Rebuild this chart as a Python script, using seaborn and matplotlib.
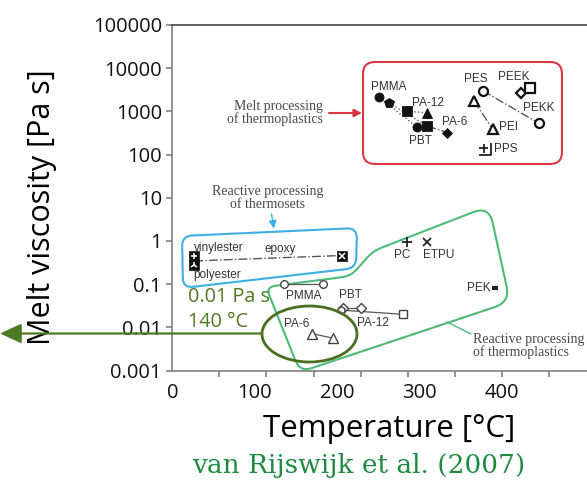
import numpy as np
import matplotlib
matplotlib.use("Agg")
import matplotlib.pyplot as plt
import seaborn as sns
from matplotlib.path import Path
from matplotlib.patches import PathPatch, Ellipse, FancyArrowPatch
from matplotlib.transforms import Affine2D

# ---------------- data ----------------
# Melt processing of thermoplastics (processing temperature [°C], melt viscosity [Pa s])
melt_t = [251, 263, 284.5, 308.7, 297.3, 309.5, 333.7, 376.7, 366.0, 388.8, 445.0, 423.2, 434.0, 379.5]
melt_eta = [2100, 1580, 1010, 925, 424, 454, 324, 2990, 1750, 381, 525, 2610, 3390, 138]
melt_marker = ["o", "p", "s", "^", "o", "s", "D", "o", "^", "^", "o", "D", "s", "pps"]
melt_filled = [1, 1, 1, 1, 1, 1, 1, 0, 0, 0, 0, 0, 0, 0]
melt_links = [(0, 4, ":"), (1, 5, ":"), (2, 3, ":"), (5, 6, "-."), (7, 10, "-."), (8, 9, "-.")]

# Reactive processing of thermoplastics: ranges with two end points
rtp_names = ["PMMA", "PBT", "PA-12", "PA-6"]
rtp_t_lo = [136, 207, 205, 170]
rtp_t_hi = [183, 229, 280, 195]
rtp_eta_lo = [0.10, 0.028, 0.025, 0.0071]
rtp_eta_hi = [0.10, 0.028, 0.020, 0.0056]
rtp_mk_lo = ["o", "D", "h", "^"]
rtp_mk_hi = ["o", "D", "s", "^"]

# Reactive processing of thermoplastics: single points
rtp1_names = ["PC", "ETPU", "PEK"]
rtp1_t = [284.5, 308.7, 391.6]
rtp1_eta = [0.94, 0.94, 0.080]
rtp1_mk = ["+", "x", "_"]

# Reactive processing of thermosets
ts_names = ["vinylester", "polyester", "epoxy"]
ts_t = [26.7, 26.7, 205.6]
ts_eta = [0.44, 0.27, 0.46]
ts_inner = ["+", "2", "x"]

ytick_vals = [1e-3, 1e-2, 1e-1, 1, 10, 100, 1000, 10000, 100000]
ytick_labels = ["0.001", "0.01", "0.1", "1", "10", "100", "1000", "10000", "100000"]
xtick_vals = [0, 100, 200, 300, 400]
xtick_labels = ["0", "100", "200", "300", "400"]

# ---------------- figure ----------------
sns.set_theme(style="ticks")
plt.rcParams["font.family"] = ["Open Sans", "DejaVu Sans"]

W, H, DPI = 587, 490, 100
fig = plt.figure(figsize=(W / DPI, H / DPI), dpi=DPI)
AX_L, AX_R, AX_T, AX_B = 172.3, 587.0, 25.0, 370.5
ax = fig.add_axes([AX_L / W, (H - AX_B) / H, (AX_R - AX_L) / W, (AX_B - AX_T) / H])

# pixel coordinates measured from the top-left corner of the figure
pix = Affine2D().scale(1, -1).translate(0, H).scale(1 / DPI) + fig.dpi_scale_trans

ax.set_yscale("log")
ax.set_ylim(1e-3, 1e5)
ax.set_xlim(0, 503)
ax.set_yticks(ytick_vals)
ax.set_yticklabels(ytick_labels)
ax.yaxis.set_minor_locator(matplotlib.ticker.NullLocator())
ax.set_xticks(xtick_vals)
ax.set_xticklabels(xtick_labels)
ax.set_xticks(np.arange(0, 503, 57.1), minor=True)
ax.tick_params(axis="x", which="major", length=0, pad=9, labelsize=14.5, colors="#111")
ax.tick_params(axis="x", which="minor", length=4, width=1.1, color="#777", direction="out")
ax.tick_params(axis="y", which="major", length=4, width=1.1, color="#777", pad=3.5,
               labelsize=14.5, labelcolor="#111")
for s in ["left", "bottom"]:
    ax.spines[s].set_color("#808080")
    ax.spines[s].set_linewidth(1.2)
ax.spines["top"].set_color("#333")
ax.spines["top"].set_linewidth(1.1)
ax.spines["right"].set_visible(False)
ax.set_facecolor("white")

ax.set_ylabel("Melt viscosity [Pa s]", fontsize=22, color="black")
ax.yaxis.label.set_va("baseline")
ax.yaxis.set_label_coords((50 - AX_L) / (AX_R - AX_L), (AX_B - 206.7) / (AX_B - AX_T))
ax.set_xlabel("Temperature [°C]", fontsize=22.5, color="black")
ax.xaxis.label.set_va("baseline")
ax.xaxis.set_label_coords((389.5 - AX_L) / (AX_R - AX_L), (AX_B - 437) / (AX_B - AX_T))

LAB = dict(family="Liberation Sans", fontsize=8.5, color="#333", ha="center", va="center",
           transform=pix)
CAP = dict(family="Liberation Serif", fontsize=10, color="#484848", linespacing=1.0,
           transform=pix)


def draw(xs, ys, marker=None, ms=6, mfc="k", mec="k", mew=1.0, ls="none", lw=0.9,
         color="#444", z=3, **extra):
    sns.lineplot(x=list(xs), y=list(ys), ax=ax, estimator=None, sort=False, marker=marker,
                 markersize=ms, markerfacecolor=mfc, markeredgecolor=mec,
                 markeredgewidth=mew, linestyle=ls, linewidth=lw, color=color, zorder=z,
                 **extra)


def rounded_path(verts, radii):
    V = np.array(verts, float)
    n = len(V)
    pts, codes = [], []
    for i in range(n):
        p0, p1, p2 = V[i - 1], V[i], V[(i + 1) % n]
        d1 = (p0 - p1) / np.linalg.norm(p0 - p1)
        d2 = (p2 - p1) / np.linalg.norm(p2 - p1)
        a, b = p1 + d1 * radii[i], p1 + d2 * radii[i]
        codes.append(Path.MOVETO if i == 0 else Path.LINETO)
        pts.append(a)
        codes += [Path.CURVE3, Path.CURVE3]
        pts += [p1, b]
    codes.append(Path.CLOSEPOLY)
    pts.append(pts[0])
    return Path(pts, codes)


def outline(verts, radii, color, lw=1.5):
    ax.add_patch(PathPatch(rounded_path(verts, radii), fill=False, edgecolor=color,
                           linewidth=lw, transform=pix, clip_on=False, zorder=2))


def arrow(p_from, p_to, color, lw=1.2, scale=5, style="-|>,head_length=0.9,head_width=0.45",
          on_fig=False, z=2):
    a = FancyArrowPatch(p_from, p_to, arrowstyle=style, mutation_scale=scale, color=color,
                        linewidth=lw, shrinkA=0, shrinkB=0, transform=pix, clip_on=False,
                        zorder=z)
    if on_fig:
        fig.add_artist(a)
    else:
        ax.add_patch(a)


# ---------------- region outlines ----------------
RED, BLUE, GREEN = "#d8383f", "#3eaee6", "#4cbc78"
outline([(363, 62), (562, 62), (562, 164), (363, 164)], [12, 12, 12, 12], RED)
outline([(182, 236), (357, 228), (356, 268), (183, 288)], [10, 10, 10, 10], BLUE)
outline([(266, 287), (351, 276), (373, 251), (489, 206), (510, 302), (300, 372)],
        [9, 9, 9, 17, 16, 12], GREEN)

arrow((329, 113), (362, 113), RED, lw=1.5)
arrow((271.5, 214), (274.0, 228.5), BLUE, lw=1.0)
ax.add_line(matplotlib.lines.Line2D([447, 471], [322, 334], color=GREEN, lw=1.0,
                                    transform=pix, clip_on=False))

ax.text(323, 113, "Melt processing\nof thermoplastics", ha="right", va="center",
        multialignment="right", **CAP)
ax.text(268, 197.5, "Reactive processing\nof thermosets", ha="center", va="center",
        multialignment="center", **CAP)
ax.text(473, 346, "Reactive processing\nof thermoplastics", ha="left", va="center",
        multialignment="left", **CAP)

# ---------------- melt processing of thermoplastics ----------------
for i, j, ls in melt_links:
    draw([melt_t[i], melt_t[j]], [melt_eta[i], melt_eta[j]], ls=ls, lw=1.0, color="#555", z=3)

pps_marker = Path([(-1, 0.1), (0.55, 0.1), (-0.22, -0.75), (-0.22, 0.95),
                   (-1, -1), (1, -1), (1, 1)],
                  [Path.MOVETO, Path.LINETO, Path.MOVETO, Path.LINETO,
                   Path.MOVETO, Path.LINETO, Path.LINETO])
for t, e, mk, filled in zip(melt_t, melt_eta, melt_marker, melt_filled):
    if mk == "pps":
        draw([t], [e], marker=pps_marker, ms=8, mfc="none", mec="#222", mew=1.3, z=4)
    elif filled:
        size = {"D": 5.5, "^": 7, "p": 7.5}.get(mk, 6.5)
        draw([t], [e], marker=mk, ms=size, mfc="#111", mec="#111", mew=0.6, z=4)
    else:
        size = {"D": 5.5, "^": 7}.get(mk, 6.5)
        draw([t], [e], marker=mk, ms=size, mfc="white", mec="#111", mew=1.6, z=4)

melt_labels = [("PMMA", 388.3, 86.7), ("PA-12", 428.3, 103.3), ("PA-6", 454.3, 121.7),
               ("PBT", 420, 140.7), ("PES", 476, 79.3), ("PEEK", 513.3, 76.7),
               ("PEKK", 538.3, 108.3), ("PEI", 509, 126.7), ("PPS", 506, 149.3)]
for name, x, y in melt_labels:
    ax.text(x, y, name, **LAB)

# ---------------- reactive processing of thermoplastics ----------------
for k in range(len(rtp_names)):
    draw([rtp_t_lo[k], rtp_t_hi[k]], [rtp_eta_lo[k], rtp_eta_hi[k]], ls="-", lw=0.9,
         color="#555", z=3)
    for t, e, mk in [(rtp_t_lo[k], rtp_eta_lo[k], rtp_mk_lo[k]),
                     (rtp_t_hi[k], rtp_eta_hi[k], rtp_mk_hi[k])]:
        size = {"D": 5, "^": 6.5, "s": 6}.get(mk, 5.5)
        draw([t], [e], marker=mk, ms=size, mfc="white", mec="#444", mew=1.0, z=4)

for t, e, mk in zip(rtp1_t, rtp1_eta, rtp1_mk):
    if mk == "_":
        draw([t], [e], marker=mk, ms=5, mfc="#222", mec="#222", mew=3, z=4)
    else:
        draw([t], [e], marker=mk, ms=6.5 if mk == "+" else 5.5, mfc="#222", mec="#222",
             mew=1.3, z=4)

rtp_labels = [("PMMA", 304, 295.7), ("PBT", 350.7, 295), ("PA-12", 373, 322.7),
              ("PA-6", 296.7, 324), ("PC", 401.7, 255), ("ETPU", 438.3, 255),
              ("PEK", 478.5, 288)]
for name, x, y in rtp_labels:
    ax.text(x, y, name, **LAB)

# ---------------- reactive processing of thermosets ----------------
left_mid = np.sqrt(ts_eta[0] * ts_eta[1])
draw([ts_t[0], ts_t[2]], [left_mid, ts_eta[2]], ls="-.", lw=1.0, color="#555", z=3)
for t, e, inner in zip(ts_t, ts_eta, ts_inner):
    draw([t], [e], marker="s", ms=7, mfc="#111", mec="#111", mew=0.5, z=4)
    draw([t], [e], marker=inner, ms=5, mfc="white", mec="white", mew=1.1, z=5)

ts_labels = [("vinylester", 219, 247.7), ("epoxy", 280, 249), ("polyester", 217.5, 275)]
for name, x, y in ts_labels:
    ax.text(x, y, name, **LAB)

# ---------------- highlight of the low-viscosity PA-6 window ----------------
OLIVE = "#4d7a22"
ax.add_patch(Ellipse((309.5, 334), 95, 56, fill=False, edgecolor="#4a6e1f", linewidth=2.0,
                     transform=pix, clip_on=False, zorder=6))
arrow((262, 333.5), (0, 333.5), OLIVE, lw=1.6, scale=10,
      style="-|>,head_length=1.3,head_width=0.6", on_fig=True, z=10)
ax.text(188, 297, "0.01 Pa s", ha="left", va="center", fontsize=14.3, color=OLIVE,
        transform=pix, zorder=7)
ax.text(188, 321.7, "140 °C", ha="left", va="center", fontsize=14.3, color=OLIVE,
        transform=pix, zorder=7)

fig.text(192, 473.3, "van Rijswijk et al. (2007)", ha="left", va="baseline",
         family="DejaVu Serif", fontsize=19, color="#1f8b40", transform=pix)

fig.savefig("out.png", dpi=DPI, facecolor="white")
